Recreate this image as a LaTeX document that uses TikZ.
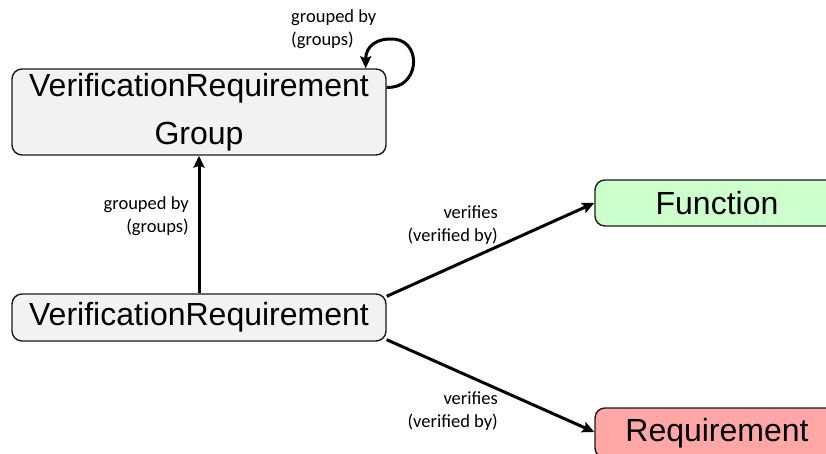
\documentclass[tikz,border=0pt]{standalone}
\usepackage{fontspec}
\setmainfont{Liberation Sans}
\newfontfamily\lblfont{Carlito}
\usetikzlibrary{arrows.meta,calc}
\definecolor{boxgray}{HTML}{F2F2F2}
\definecolor{boxgreen}{HTML}{CCFFCC}
\definecolor{boxred}{HTML}{FFA6A6}
\definecolor{edgedark}{HTML}{1A1A1A}
\tikzset{
  entity/.style={draw=edgedark, line width=1.4pt, rounded corners=10pt, inner sep=0pt,
    font=\fontsize{32}{48}\selectfont, align=center},
  rel/.style={line width=3pt, -{Stealth[length=12pt,width=11pt,inset=2pt]}},
  lbl/.style={font=\lblfont\fontsize{18.5}{22.5}\selectfont, inner sep=0pt}
}
\begin{document}
\begin{tikzpicture}[x=1pt,y=-1pt]
\useasboundingbox (0,0) rectangle (826,454);
% nodes
\node[entity, fill=boxgray, minimum width=374pt, minimum height=86pt] (vrg) at (199,112) {\raisebox{-3pt}{VerificationRequirement}\\\raisebox{-3pt}{Group}};
\node[entity, fill=boxgray, minimum width=374pt, minimum height=47pt] (vr) at (199,317.5) {VerificationRequirement};
\node[entity, fill=boxgreen, minimum width=244pt, minimum height=46pt] (fn) at (717,203) {Function};
\node[entity, fill=boxred, minimum width=244pt, minimum height=50pt] (rq) at (717,433) {Requirement};
% labels
\node[lbl, anchor=west, align=left] (l1) at (291,29) {grouped by\\(groups)};
\node[lbl, anchor=east, align=right] (l2) at (189,216) {grouped by\\(groups)};
\node[lbl, anchor=east, align=right] (l3) at (498,225) {verifies\\(verified by)};
\node[lbl, anchor=east, align=right] (l4) at (498,411) {verifies\\(verified by)};
% helper coordinates
\coordinate (loopS) at ($(vrg.north east)+(0,19)$);
\coordinate (loopE) at ($(vrg.north east)+(-21,0)$);
\coordinate (vrA) at ($(vr.north east)+(0,3)$);
\coordinate (vrB) at ($(vr.south east)+(0,-2)$);
% connectors
\draw[rel] (vr.north) -- (vrg.south);
\draw[rel] (vrA) -- (fn.west);
\draw[rel] (vrB) -- ($(rq.west)+(0,-1)$);
\draw[rel] (loopS) .. controls ($(loopS)+(32,2)$) and ($(loopS)+(36,-44)$) .. ($(loopS)+(9,-48)$)
  .. controls ($(loopS)+(-10,-50)$) and ($(loopE)+(0,-22)$) .. (loopE);
\end{tikzpicture}
\end{document}
